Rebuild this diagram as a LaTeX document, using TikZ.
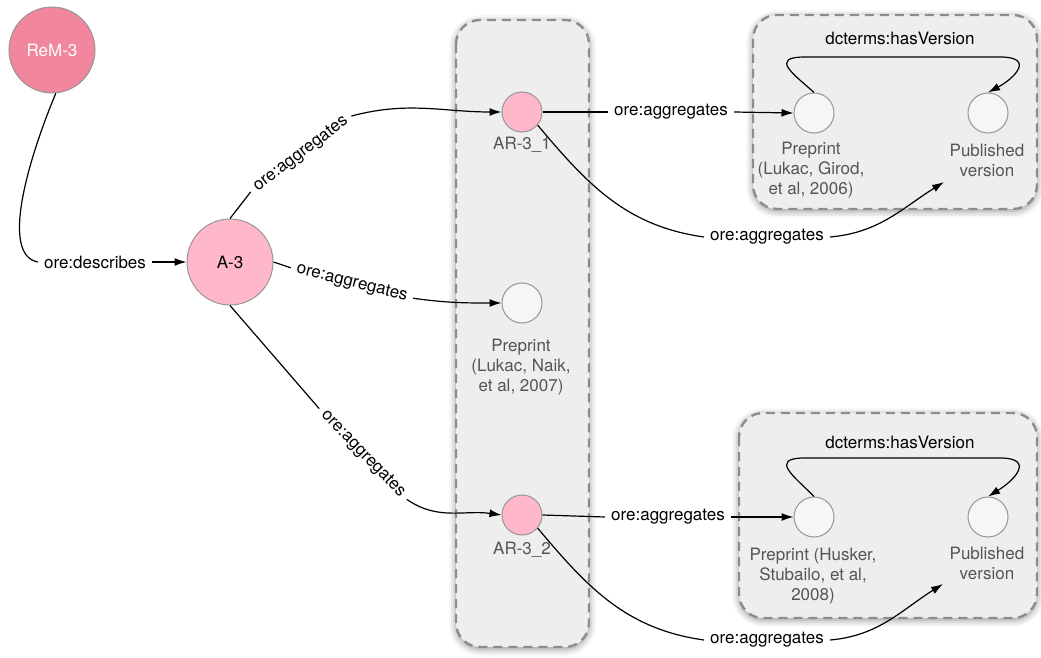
\documentclass[tikz,border=0pt]{standalone}
\usepackage{fontspec}
\setmainfont{TeX Gyre Heros}
\usetikzlibrary{arrows.meta,shadows.blur}
\definecolor{remfill}{RGB}{242,134,156}
\definecolor{pinkfill}{RGB}{255,184,202}
\definecolor{whitefill}{RGB}{246,246,246}
\definecolor{ringcol}{RGB}{150,150,150}
\definecolor{boxfill}{RGB}{238,238,238}
\definecolor{dashcol}{RGB}{140,140,140}
\definecolor{lblcol}{RGB}{85,85,85}
\begin{document}
\begin{tikzpicture}[x=1pt,y=1pt,
  every node/.style={font=\fontsize{17}{19}\selectfont},
  bigc/.style={circle,draw=ringcol,line width=1pt,minimum size=86pt,inner sep=0pt},
  smallc/.style={circle,draw=ringcol,line width=1pt,minimum size=40pt,inner sep=0pt},
  nlabel/.style={text=lblcol,align=center,inner sep=0pt},
  elabel/.style={inner xsep=6pt,inner ysep=2pt,text=black},
  container/.style={draw=dashcol,fill=boxfill,line width=2.4pt,dash pattern=on 9pt off 6pt,rounded corners=24pt,
    blur shadow={shadow xshift=0pt,shadow yshift=-2pt,shadow blur radius=7pt,shadow opacity=45}},
  conn/.style={line width=1.2pt,black},
  arr/.style={conn,-{Latex[length=12pt,width=8pt]}}]
\useasboundingbox (0,0) rectangle (1041,-658);
% containers
\path[container] (456,-20) rectangle (589,-647);
\path[container] (753,-15) rectangle (1037,-209);
\path[container] (739,-413) rectangle (1037,-618);
% nodes
\node[bigc,fill=remfill,text=white] (rem) at (52,-50) {ReM-3};
\node[bigc,fill=pinkfill] (a3) at (230,-262) {A-3};
\node[smallc,fill=pinkfill] (ar1) at (522,-112) {};
\node[nlabel] (ar1lbl) at (522,-145) {AR-3\_1};
\node[smallc,fill=whitefill] (pre) at (522,-303) {};
\node[nlabel,font=\fontsize{17}{20}\selectfont] (prelbl) at (521,-367) {Preprint\\(Lukac, Naik,\\et al, 2007)};
\node[smallc,fill=pinkfill] (ar2) at (522,-515) {};
\node[nlabel] (ar2lbl) at (522,-550) {AR-3\_2};
\node[smallc,fill=whitefill] (pre1) at (814,-113) {};
\node[nlabel,font=\fontsize{17}{20}\selectfont] (pre1lbl) at (811,-170) {Preprint\\(Lukac, Girod,\\et al, 2006)};
\node[smallc,fill=whitefill] (pub1) at (988,-113) {};
\node[nlabel,font=\fontsize{17}{20}\selectfont] (pub1lbl) at (987,-160) {Published\\version};
\node[smallc,fill=whitefill] (pre2) at (814,-517) {};
\node[nlabel,font=\fontsize{17}{20}\selectfont] (pre2lbl) at (813,-576) {Preprint (Husker,\\Stubailo, et al,\\2008)};
\node[smallc,fill=whitefill] (pub2) at (988,-517) {};
\node[nlabel,font=\fontsize{17}{20}\selectfont] (pub2lbl) at (987,-563) {Published\\version};
% edge labels
\node[elabel] (desc) at (95,-262) {ore:describes};
\node[elabel,rotate=37] (agg1) at (301,-154) {ore:aggregates};
\node[elabel,rotate=-14] (agg2) at (352,-283) {ore:aggregates};
\node[elabel,rotate=-46] (agg3) at (363,-454) {ore:aggregates};
\node[elabel] (agg4) at (671,-112) {ore:aggregates};
\node[elabel] (agg5) at (767,-237) {ore:aggregates};
\node[elabel] (agg6) at (668,-517) {ore:aggregates};
\node[elabel] (agg7) at (767,-640) {ore:aggregates};
\node[elabel] (hv1) at (900,-38) {dcterms:hasVersion};
\node[elabel] (hv2) at (900,-442) {dcterms:hasVersion};
\coordinate (pub1in) at (944,-182);
\coordinate (pub2in) at (943,-584);
% connectors
\draw[conn] (rem.-85) .. controls (28,-160) and (0,-255) .. (desc.west);
\draw[arr] (desc.east) -- (a3.west);
\draw[conn] (a3.north) -- (agg1.west);
\draw[arr] (agg1.east) to[out=15,in=180] (ar1.west);
\draw[conn] (a3.east) -- (agg2.west);
\draw[arr] (agg2.east) to[out=-8,in=180] (pre.west);
\draw[conn] (a3.south) -- (agg3.west);
\draw[arr] (agg3.east) to[out=-35,in=172] (ar2.west);
\draw[conn] (ar1.east) -- (agg4.west);
\draw[arr] (agg4.east) -- (pre1.west);
\draw[conn] (ar1.-40) to[out=-50,in=172] (agg5.west);
\draw[arr] (agg5.east) to[out=5,in=212] (pub1in);
\draw[conn] (ar2.east) -- (agg6.west);
\draw[arr] (agg6.east) -- (pre2.west);
\draw[conn] (ar2.-40) to[out=-50,in=172] (agg7.west);
\draw[arr] (agg7.east) to[out=5,in=212] (pub2in);
\draw[arr] (pre1.north) .. controls (795,-75) and (768,-57) .. (805,-57) -- (1000,-57) .. controls (1035,-57) and (1015,-78) .. (pub1.north);
\draw[arr] (pre2.north) .. controls (795,-477) and (768,-458) .. (805,-458) -- (1000,-458) .. controls (1035,-458) and (1015,-480) .. (pub2.north);
\end{tikzpicture}
\end{document}
